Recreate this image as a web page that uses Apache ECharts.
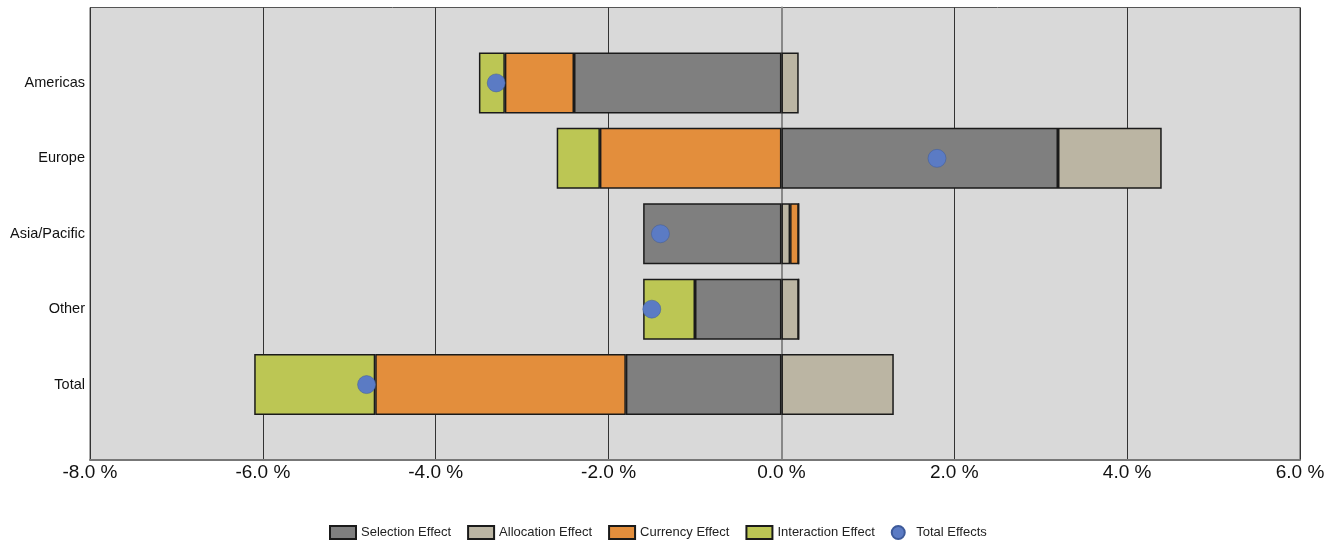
<!DOCTYPE html>
<html><head><meta charset="utf-8">
<script src="https://cdn.jsdelivr.net/npm/echarts@6/dist/echarts.min.js"></script>
<style>html,body{margin:0;padding:0;background:#fff}#c{width:1340px;height:541px}</style>
</head><body><div id="c"></div>
<script>
const categories = ['Americas', 'Europe', 'Asia/Pacific', 'Other', 'Total'];
const selection = [-2.4, 3.2, -1.6, -1.0, -1.8];
const allocation = [0.2, 1.2, 0.1, 0.2, 1.3];
const currency = [-0.8, -2.1, 0.1, 0, -2.9];
const interaction = [-0.3, -0.5, 0, -0.6, -1.4];
const totalEffects = [-3.3, 1.8, -1.4, -1.5, -4.8];
const xTicks = [-8, -6, -4, -2, 0, 2, 4, 6];

const pad = a => [null].concat(a, [null]);
const cats = [' '].concat(categories, ['  ']);
const font = 'Liberation Sans, Arial, sans-serif';
const border = {borderColor: '#1a1a1a', borderWidth: 1.5};
function barSeries(name, data, color) {
  return {name, type: 'bar', stack: 'eff', data: pad(data), barWidth: 61,
    itemStyle: Object.assign({color}, border), emphasis: {disabled: true}};
}
const chart = echarts.init(document.getElementById('c'), null, {renderer: 'canvas'});
chart.setOption({
  animation: false,
  backgroundColor: '#ffffff',
  grid: {left: 90, right: 40, top: 5, bottom: 81, show: true, backgroundColor: '#d9d9d9', borderColor: '#555', borderWidth: 1},
  xAxis: {type: 'value', min: xTicks[0], max: xTicks[xTicks.length - 1], interval: 2,
    axisLine: {show: true, lineStyle: {color: '#777', width: 2}}, axisTick: {show: false},
    splitLine: {show: true, lineStyle: {color: '#333', width: 1}},
    axisLabel: {formatter: v => v.toFixed(1) + ' %', color: '#111', fontSize: 19, fontFamily: font, margin: 3}},
  yAxis: {type: 'category', data: cats, inverse: true, boundaryGap: false,
    axisLine: {show: true, lineStyle: {color: '#888', width: 2}}, axisTick: {show: false},
    splitLine: {show: false},
    axisLabel: {color: '#111', fontSize: 14.5, fontFamily: font, margin: 5}},
  legend: {top: 520, left: 324, itemWidth: 26, itemHeight: 13, itemGap: 16,
    textStyle: {fontSize: 13, fontFamily: font, color: '#222'},
    data: [{name: 'Selection Effect', icon: 'rect'}, {name: 'Allocation Effect', icon: 'rect'},
      {name: 'Currency Effect', icon: 'rect'}, {name: 'Interaction Effect', icon: 'rect'},
      {name: 'Total Effects', icon: 'circle'}]},
  series: [
    barSeries('Selection Effect', selection, '#7f7f7f'),
    barSeries('Allocation Effect', allocation, '#bbb5a3'),
    barSeries('Currency Effect', currency, '#e38e3c'),
    barSeries('Interaction Effect', interaction, '#bcc654'),
    {name: 'Total Effects', type: 'scatter', data: pad(totalEffects), symbolSize: 18, z: 5,
      itemStyle: {color: '#5b7bc4', opacity: 1, borderColor: '#3d5a9a', borderWidth: 0.5}}
  ]
});
</script></body></html>
